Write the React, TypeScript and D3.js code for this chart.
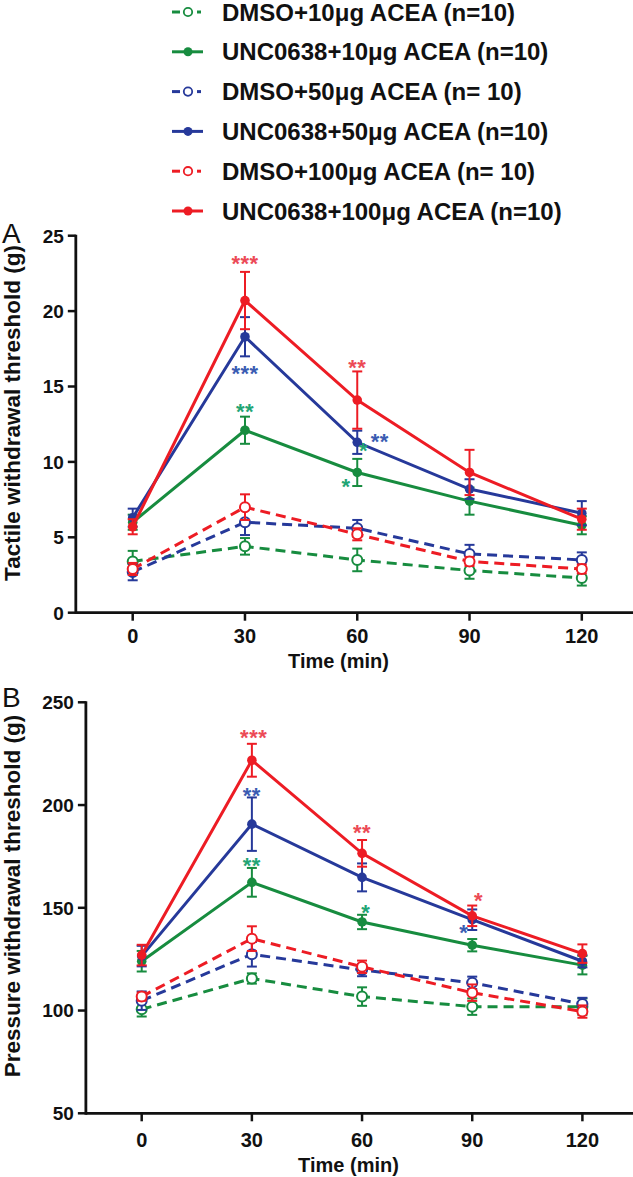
import React from 'react';
import * as d3 from 'd3';

const times = [0, 30, 60, 90, 120];
const xTicks = [0, 30, 60, 90, 120];

const seriesNames = [
  'DMSO+10μg ACEA (n=10)',
  'UNC0638+10μg ACEA (n=10)',
  'DMSO+50μg ACEA (n= 10)',
  'UNC0638+50μg ACEA (n=10)',
  'DMSO+100μg ACEA (n= 10)',
  'UNC0638+100μg ACEA (n=10)',
];
const seriesColors = ['#178c3f', '#178c3f', '#26399a', '#26399a', '#ed1c24', '#ed1c24'];
const seriesDashed = [true, false, true, false, true, false];
const starColors = ['#22a574', '#3a5cb2', '#ec4a56'];

// Panel A: tactile withdrawal threshold (g), mean and SEM
const tactileMeans = [
  [3.4, 4.4, 3.5, 2.8, 2.3],
  [6.0, 12.1, 9.3, 7.4, 5.8],
  [2.7, 6.0, 5.6, 3.9, 3.5],
  [6.3, 18.3, 11.3, 8.2, 6.6],
  [2.9, 7.0, 5.2, 3.4, 2.9],
  [5.7, 20.7, 14.1, 9.3, 6.2],
];
const tactileSem = [
  [0.7, 0.55, 0.75, 0.55, 0.5],
  [0.5, 0.9, 0.9, 0.9, 0.6],
  [0.55, 0.85, 0.55, 0.6, 0.5],
  [0.6, 1.3, 0.77, 0.65, 0.8],
  [0.4, 0.85, 0.4, 0.3, 0.3],
  [0.5, 1.9, 1.9, 1.5, 0.7],
];
const tactileTicks = [0, 5, 10, 15, 20, 25];
const tactileStars = [
  { t: 30, v: 23.5, text: '***', c: 2 },
  { t: 30, v: 16.2, text: '***', c: 1 },
  { t: 30, v: 13.7, text: '**', c: 0 },
  { t: 60, v: 16.6, text: '**', c: 2 },
  { t: 66, v: 11.7, text: '**', c: 1 },
  { t: 57, v: 8.7, text: '*', c: 0 },
  { t: 61.7, v: 11.1, text: '*', c: 0 },
];

// Panel B: pressure withdrawal threshold (g), mean and SEM
const pressureMeans = [
  [100.6, 115.6, 106.8, 101.9, 101.9],
  [124.0, 162.4, 143.1, 131.8, 122.1],
  [104.8, 127.4, 119.7, 113.5, 103.2],
  [126.5, 190.7, 164.8, 144.2, 124.0],
  [106.8, 135.0, 121.3, 108.7, 99.5],
  [127.0, 221.8, 176.5, 146.1, 127.7],
];
const pressureSem = [
  [3.5, 2.5, 4.5, 4, 4],
  [5, 7, 3.5, 3, 4.5],
  [4.5, 6, 3, 3, 3],
  [5, 13, 6.8, 5, 3],
  [2, 6, 3, 4, 3],
  [5, 8, 6.5, 5, 4.5],
];
const pressureTicks = [50, 100, 150, 200, 250];
const pressureStars = [
  { t: 30.5, v: 235.3, text: '***', c: 2 },
  { t: 30, v: 207.2, text: '**', c: 1 },
  { t: 30, v: 172.9, text: '**', c: 0 },
  { t: 60, v: 189.3, text: '**', c: 2 },
  { t: 61, v: 150.2, text: '*', c: 0 },
  { t: 91.7, v: 156.2, text: '*', c: 2 },
  { t: 87.7, v: 140.5, text: '*', c: 1 },
];

const FONT = '"Liberation Sans", Arial, Helvetica, sans-serif';

type PanelProps = {
  label: string;
  labelY: number;
  means: number[][];
  sems: number[][];
  yDomain: [number, number];
  yTicks: number[];
  yRange: [number, number];
  xRange: [number, number];
  yTitle: string;
  yTitleCenter: number;
  xTitleX: number;
  xTitleY: number;
  xLabelY: number;
  stars: { t: number; v: number; text: string; c: number }[];
};

function Panel(p: PanelProps) {
  const x = d3.scaleLinear().domain([0, 120]).range(p.xRange);
  const y = d3.scaleLinear().domain(p.yDomain).range(p.yRange);
  const axisX = x(-15.2);
  const axisY = y(p.yDomain[0]);
  const line = d3
    .line<number>()
    .x((_, i) => x(times[i]))
    .y((d) => y(d));
  const order = [0, 1, 2, 3, 4, 5];
  return (
    <g>
      <text x={2} y={p.labelY} fontFamily={FONT} fontSize={28} fill="#111">
        {p.label}
      </text>
      {/* axes */}
      <line x1={axisX} x2={640} y1={axisY} y2={axisY} stroke="#111" strokeWidth={2.8} />
      <line x1={axisX} x2={axisX} y1={y(p.yDomain[1]) - 1} y2={axisY + 1.4} stroke="#111" strokeWidth={2.8} />
      {p.yTicks.map((t) => (
        <g key={'yt' + t}>
          <line x1={axisX - 8} x2={axisX} y1={y(t)} y2={y(t)} stroke="#111" strokeWidth={2.5} />
          <text
            x={axisX - 12}
            y={y(t)}
            dy="0.36em"
            textAnchor="end"
            fontFamily={FONT}
            fontWeight="bold"
            fontSize={19}
            fill="#111"
          >
            {t}
          </text>
        </g>
      ))}
      {xTicks.map((t) => (
        <g key={'xt' + t}>
          <line x1={x(t)} x2={x(t)} y1={axisY} y2={axisY + 8} stroke="#111" strokeWidth={2.5} />
          <text
            x={x(t)}
            y={p.xLabelY}
            textAnchor="middle"
            fontFamily={FONT}
            fontWeight="bold"
            fontSize={20}
            fill="#111"
          >
            {t}
          </text>
        </g>
      ))}
      <text
        x={p.xTitleX}
        y={p.xTitleY}
        textAnchor="middle"
        fontFamily={FONT}
        fontWeight="bold"
        fontSize={20}
        fill="#111"
      >
        Time (min)
      </text>
      <text
        transform={`translate(20,${p.yTitleCenter}) rotate(-90)`}
        textAnchor="middle"
        fontFamily={FONT}
        fontWeight="bold"
        fontSize={22.5}
        fill="#111"
      >
        {p.yTitle}
      </text>
      {/* series */}
      {order.map((s) => {
        const col = seriesColors[s];
        const dashed = seriesDashed[s];
        return (
          <g key={'s' + s}>
            <path
              d={line(p.means[s]) || ''}
              fill="none"
              stroke={col}
              strokeWidth={3}
              strokeDasharray={dashed ? '10,6' : undefined}
            />
            {p.means[s].map((m, i) => {
              const e = p.sems[s][i];
              const cx = x(times[i]);
              return (
                <g key={'e' + i}>
                  <line x1={cx} x2={cx} y1={y(m - e)} y2={y(m + e)} stroke={col} strokeWidth={2} />
                  <line x1={cx - 5} x2={cx + 5} y1={y(m + e)} y2={y(m + e)} stroke={col} strokeWidth={2} />
                  <line x1={cx - 5} x2={cx + 5} y1={y(m - e)} y2={y(m - e)} stroke={col} strokeWidth={2} />
                </g>
              );
            })}
            {p.means[s].map((m, i) =>
              dashed ? (
                <circle key={'c' + i} cx={x(times[i])} cy={y(m)} r={5} fill="#fff" stroke={col} strokeWidth={2} />
              ) : (
                <circle key={'c' + i} cx={x(times[i])} cy={y(m)} r={4.8} fill={col} />
              )
            )}
          </g>
        );
      })}
      {p.stars.map((st, i) => (
        <text
          key={'st' + i}
          x={x(st.t)}
          y={y(st.v) + 12.5}
          textAnchor="middle"
          fontFamily={FONT}
          fontWeight="bold"
          fontSize={22}
          letterSpacing={0.5}
          fill={starColors[st.c]}
        >
          {st.text}
        </text>
      ))}
    </g>
  );
}

function Legend() {
  const rowY = d3.scalePoint<number>().domain([0, 1, 2, 3, 4, 5]).range([12, 211]);
  return (
    <g>
      {seriesNames.map((name, i) => {
        const cy = rowY(i) as number;
        const col = seriesColors[i];
        const dashed = seriesDashed[i];
        return (
          <g key={name}>
            {dashed ? (
              <g>
                <line x1={172} x2={180} y1={cy} y2={cy} stroke={col} strokeWidth={3} />
                <circle cx={188} cy={cy} r={4.2} fill="#fff" stroke={col} strokeWidth={1.8} />
                <line x1={197} x2={201} y1={cy} y2={cy} stroke={col} strokeWidth={3} />
              </g>
            ) : (
              <g>
                <line x1={172} x2={203} y1={cy} y2={cy} stroke={col} strokeWidth={3} />
                <circle cx={188} cy={cy} r={4.5} fill={col} />
              </g>
            )}
            <text x={222} y={cy + 8.5} fontFamily={FONT} fontWeight="bold" fontSize={24} fill="#111">
              {name}
            </text>
          </g>
        );
      })}
    </g>
  );
}

export default function App() {
  return (
    <svg
      width={633}
      height={1177}
      viewBox="0 0 633 1177"
      style={{ position: 'absolute', left: 0, top: 0, background: '#fff' }}
    >
      <rect x={0} y={0} width={633} height={1177} fill="#fff" />
      <Legend />
      <Panel
        label="A"
        labelY={243}
        means={tactileMeans}
        sems={tactileSem}
        yDomain={[0, 25]}
        yTicks={tactileTicks}
        yRange={[612.7, 235.7]}
        xRange={[132.7, 581.8]}
        yTitle="Tactile withdrawal threshold (g)"
        yTitleCenter={413}
        xTitleX={338.5}
        xTitleY={667.5}
        xLabelY={643}
        stars={tactileStars}
      />
      <Panel
        label="B"
        labelY={707}
        means={pressureMeans}
        sems={pressureSem}
        yDomain={[50, 250]}
        yTicks={pressureTicks}
        yRange={[1113.3, 702.3]}
        xRange={[141.7, 582.4]}
        yTitle="Pressure withdrawal threshold (g)"
        yTitleCenter={896}
        xTitleX={348.5}
        xTitleY={1172}
        xLabelY={1147}
        stars={pressureStars}
      />
    </svg>
  );
}
